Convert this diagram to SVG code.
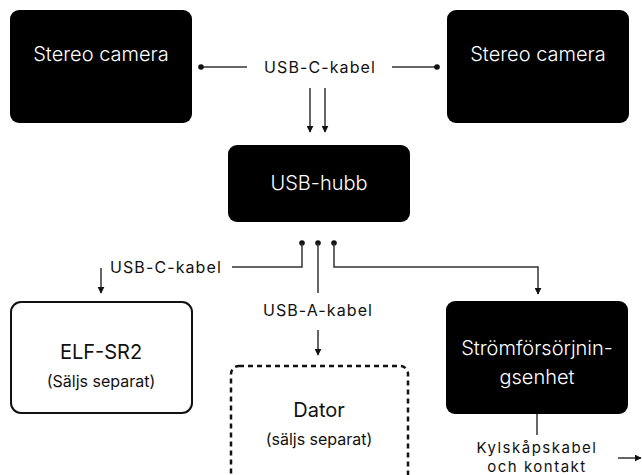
<svg xmlns="http://www.w3.org/2000/svg" width="642" height="475" viewBox="0 0 642 475">
<defs>
<style>
.dark{fill:#000;}
.wt{fill:#fff;font-family:Inter,"Liberation Sans",sans-serif;font-size:20px;font-weight:300;text-anchor:middle;}
.bt{fill:#111;font-family:Inter,"Liberation Sans",sans-serif;font-weight:400;text-anchor:middle;}
.big{font-size:20px;}
.small{font-size:16px;}
.lbl{fill:#111;font-family:Inter,"Liberation Sans",sans-serif;font-size:16px;font-weight:400;letter-spacing:1.1px;}
.lbl2{fill:#111;font-family:Inter,"Liberation Sans",sans-serif;font-size:15px;font-weight:400;letter-spacing:1.5px;text-anchor:middle;}
.ln{fill:none;stroke:#333;stroke-width:1.5;}
.dot{fill:#111;}
</style>
<marker id="ah" viewBox="0 0 10 10" refX="9" refY="5" markerWidth="7" markerHeight="7" markerUnits="userSpaceOnUse" orient="auto">
<path d="M0,0 L10,5 L0,10 z" fill="#111"/>
</marker>
</defs>
<rect width="642" height="475" fill="#fff"/>

<g id="connectors">
<line class="ln" x1="201" y1="67" x2="247" y2="67"/>
<circle class="dot" cx="201" cy="67" r="2.8"/>
<line class="ln" x1="392" y1="67" x2="437" y2="67"/>
<circle class="dot" cx="437" cy="67" r="2.8"/>
<text class="lbl" x="320" y="73" text-anchor="middle">USB-C-kabel</text>
<line class="ln" x1="310" y1="88" x2="310" y2="132" marker-end="url(#ah)"/>
<line class="ln" x1="325" y1="88" x2="325" y2="132" marker-end="url(#ah)"/>

<circle class="dot" cx="302" cy="243" r="2.8"/>
<circle class="dot" cx="318" cy="243" r="2.8"/>
<circle class="dot" cx="334" cy="243" r="2.8"/>
<polyline class="ln" points="302,243 302,267 232,267"/>
<text class="lbl" x="110" y="273">USB-C-kabel</text>
<line class="ln" x1="101" y1="268" x2="101" y2="293" marker-end="url(#ah)"/>
<line class="ln" x1="318" y1="243" x2="318" y2="293"/>
<text class="lbl" x="318" y="316" text-anchor="middle">USB-A-kabel</text>
<line class="ln" x1="318" y1="330" x2="318" y2="355" marker-end="url(#ah)"/>
<polyline class="ln" points="334,243 334,267 538,267 538,294" marker-end="url(#ah)"/>
<line class="ln" x1="537" y1="414" x2="537" y2="435"/>
<text class="lbl2" x="537" y="453">Kylskåpskabel</text>
<text class="lbl2" x="537" y="472">och kontakt</text>
<line class="ln" x1="618" y1="458" x2="641" y2="458" marker-end="url(#ah)"/>
</g>

<g id="camera-left">
<rect class="dark" x="10" y="10" width="182" height="113" rx="9"/>
<text class="wt" x="101" y="61">Stereo camera</text>
</g>
<g id="camera-right">
<rect class="dark" x="447" y="10" width="182" height="113" rx="9"/>
<text class="wt" x="538" y="61">Stereo camera</text>
</g>
<g id="usb-hub">
<rect class="dark" x="228" y="145" width="182" height="77" rx="9"/>
<text class="wt" x="319" y="190">USB-hubb</text>
</g>
<g id="elf-sr2">
<rect x="11" y="302" width="181" height="111" rx="10" fill="#fff" stroke="#111" stroke-width="2"/>
<text class="bt big" x="101" y="359">ELF-SR2</text>
<text class="bt small" x="101" y="387">(Säljs separat)</text>
</g>
<g id="dator">
<rect x="231" y="366" width="177" height="120" rx="8" fill="none" stroke="#111" stroke-width="2.5" stroke-dasharray="5 4"/>
<text class="bt big" x="319" y="417">Dator</text>
<text class="bt small" x="319" y="445">(säljs separat)</text>
</g>
<g id="power-unit">
<rect class="dark" x="446" y="301" width="182" height="113" rx="9"/>
<text class="wt" x="537" y="355">Strömförsörjnin-</text>
<text class="wt" x="537" y="384">gsenhet</text>
</g>
</svg>
